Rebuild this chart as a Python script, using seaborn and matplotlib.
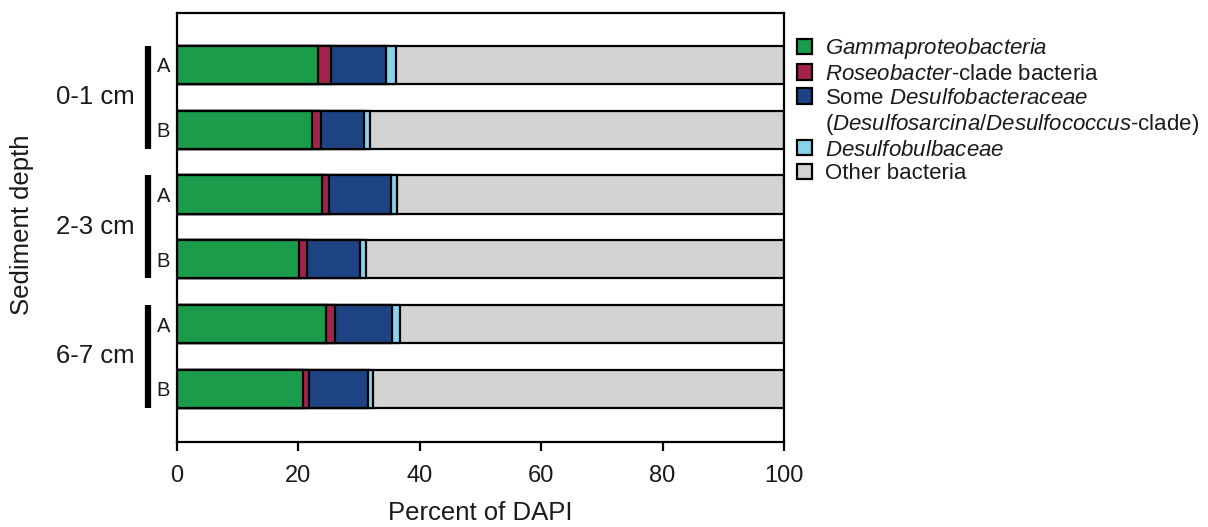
import matplotlib
matplotlib.use("Agg")
import matplotlib.pyplot as plt
import matplotlib.transforms as mtransforms
from matplotlib.patches import Patch
import numpy as np
import pandas as pd
import seaborn as sns

# Sample layout: three sediment depths, two replicate cores (A, B) each
depths = ["0-1 cm", "2-3 cm", "6-7 cm"]
cores = ["A", "B", "A", "B", "A", "B"]
samples = ["0-1 A", "0-1 B", "2-3 A", "2-3 B", "6-7 A", "6-7 B"]

# Percent of DAPI-stained cells per probe group
gamma = [23.2, 22.3, 23.9, 20.1, 24.6, 20.8]
roseobacter = [2.1, 1.4, 1.1, 1.4, 1.4, 0.9]
desulfobacteraceae = [9.2, 7.1, 10.3, 8.7, 9.5, 9.8]
desulfobulbaceae = [1.6, 1.0, 1.0, 0.9, 1.2, 0.8]
other = [63.9, 68.2, 63.7, 68.9, 63.3, 67.7]

groups = ["Gammaproteobacteria", "Roseobacter", "Desulfobacteraceae",
          "Desulfobulbaceae", "Other"]
colors = ["#1a9c4a", "#a3234a", "#1d4383", "#86d3ea", "#d3d3d3"]

df = pd.DataFrame({
    "sample": samples,
    "Gammaproteobacteria": gamma,
    "Roseobacter": roseobacter,
    "Desulfobacteraceae": desulfobacteraceae,
    "Desulfobulbaceae": desulfobulbaceae,
    "Other": other,
})
cum = df[groups].cumsum(axis=1)

sns.set_theme(style="white")
plt.rcParams["font.family"] = ["Liberation Sans", "DejaVu Sans"]
plt.rcParams["mathtext.fontset"] = "custom"
plt.rcParams["mathtext.rm"] = "Liberation Sans"
plt.rcParams["mathtext.it"] = "Liberation Sans:italic"
plt.rcParams["mathtext.bf"] = "Liberation Sans:bold"

TEXT = "#1a1a1a"

fig = plt.figure(figsize=(12.08, 5.27), dpi=100)
ax = fig.add_axes([0.1465, 0.1613, 0.5025, 0.814])

# Stacked bars: draw cumulative totals from the outermost layer inward
for g, c in zip(reversed(groups), reversed(colors)):
    sns.barplot(data=cum.assign(sample=samples), x=g, y="sample",
                orient="h", color=c, saturation=1, width=0.59,
                edgecolor="black", linewidth=1.6, ax=ax)

ax.set_xlim(0, 100)
ax.set_ylim(5.82, -0.80)
ax.set_xticks(np.arange(0, 101, 20))
ax.set_yticks(range(len(samples)))
ax.set_yticklabels(cores, fontsize=14.5, color=TEXT)
ax.tick_params(axis="y", left=False, length=0, pad=5)
ax.tick_params(axis="x", bottom=True, direction="out", length=6.5, width=1.6,
               pad=10, labelsize=17, colors="black", labelcolor=TEXT)
for s in ax.spines.values():
    s.set_visible(True)
    s.set_linewidth(1.6)
    s.set_color("black")

ax.set_xlabel("Percent of DAPI", fontsize=18.5, color=TEXT, labelpad=10)
ax.set_ylabel("Sediment depth", fontsize=18.5, color=TEXT)
ax.yaxis.set_label_coords((34 - 177) / 607, 0.506)

# Depth brackets and labels to the left of the bars
trans = mtransforms.blended_transform_factory(ax.transAxes, ax.transData)
for i, d in enumerate(depths):
    top = 2 * i - 0.295
    bottom = 2 * i + 1 + 0.295
    ax.plot([-0.047, -0.047], [top, bottom], transform=trans, color="black",
            linewidth=4.5, solid_capstyle="butt", clip_on=False)
    ax.text(-0.069, 2 * i + 0.5, d, transform=trans, ha="right", va="center",
            fontsize=18.5, color=TEXT)

# Legend
labels = [
    r"$\it{Gammaproteobacteria}$",
    r"$\it{Roseobacter}$-clade bacteria",
    r"Some $\it{Desulfobacteraceae}$",
    r"($\it{Desulfosarcina/Desulfococcus}$-clade)",
    r"$\it{Desulfobulbaceae}$",
    "Other bacteria",
]
handles = [
    Patch(facecolor=colors[0], edgecolor="black", linewidth=1.6),
    Patch(facecolor=colors[1], edgecolor="black", linewidth=1.6),
    Patch(facecolor=colors[2], edgecolor="black", linewidth=1.6),
    Patch(facecolor="none", edgecolor="none"),
    Patch(facecolor=colors[3], edgecolor="black", linewidth=1.6),
    Patch(facecolor=colors[4], edgecolor="black", linewidth=1.6),
]
leg = fig.legend(handles, labels, loc="upper left",
                 bbox_to_anchor=(797 / 1208, 1 - 36 / 527),
                 frameon=False, fontsize=16, handlelength=0.68,
                 handleheight=0.68, handletextpad=0.6, labelspacing=0.13,
                 borderaxespad=0, borderpad=0)
for t in leg.get_texts():
    t.set_color(TEXT)

fig.savefig("out.png", dpi=100)
